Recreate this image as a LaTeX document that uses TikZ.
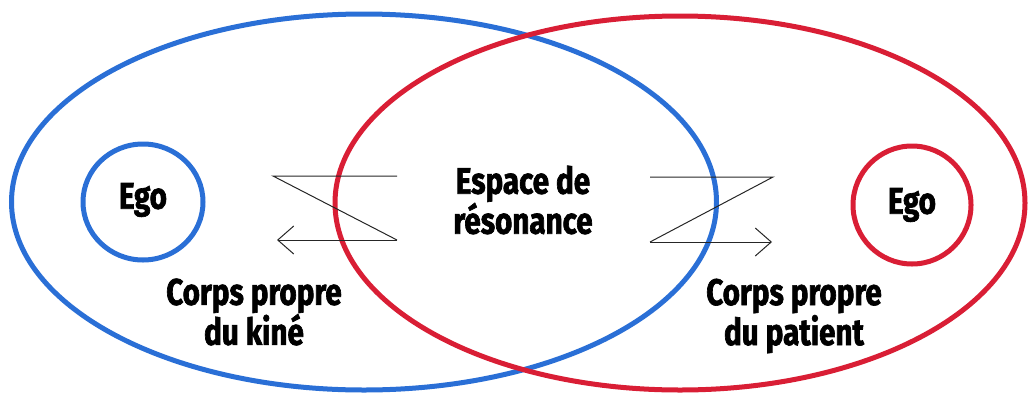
\documentclass[tikz,border=0pt]{standalone}
\usepackage{fontspec}
\setmainfont{Fira Sans}[FakeStretch=0.8,BoldFont={Fira Sans Bold},BoldFeatures={FakeStretch=0.8,FakeBold=1.8}]
\usetikzlibrary{shapes.geometric,arrows.meta}
\definecolor{egoblue}{HTML}{2A6FD6}
\definecolor{egored}{HTML}{D91E35}
\begin{document}
\begin{tikzpicture}[x=1pt,y=-1pt,
  ring/.style={ellipse,draw,line width=5pt,inner sep=0pt},
  lbl/.style={align=center,font=\bfseries\fontsize{37}{40}\selectfont,inner sep=0pt},
  zline/.style={line width=1pt,draw=black!85},
  zarrow/.style={zline,-{Straight Barb[length=16pt,width=28pt,line width=1pt]}}]
\useasboundingbox (0,0) rectangle (1030,394);
\node[ring,draw=egoblue,minimum width=705pt,minimum height=376pt] (kine) at (364,202) {};
\node[ring,draw=egored,minimum width=690pt,minimum height=374pt] (patient) at (680,203) {};
\node[ring,draw=egoblue,minimum width=120pt,minimum height=116pt] (egoL) at (143,202) {};
\node[ring,draw=egored,minimum width=118pt,minimum height=118pt] (egoR) at (912,205) {};
\node[lbl] (tegoL) at (143,200) {Ego};
\node[lbl] (tegoR) at (912,205) {Ego};
\node[lbl] (esp) at (523,200) {Espace de\\résonance};
\node[lbl] (ck) at (254,312) {Corps propre\\du kiné};
\node[lbl] (cp) at (794,316) {Corps propre\\du patient};
% left Z
\coordinate (l1) at (397,176);
\coordinate (l2) at (273,176);
\coordinate (l3) at (397,240);
\coordinate (l4) at (277,240);
\draw[zline] (l1) -- (l2) -- (l3);
\draw[zarrow] (l3) -- (l4);
% right Z
\coordinate (r1) at (650,177);
\coordinate (r2) at (773,177);
\coordinate (r3) at (650,242);
\coordinate (r4) at (772,242);
\draw[zline] (r1) -- (r2) -- (r3);
\draw[zarrow] (r3) -- (r4);
\end{tikzpicture}
\end{document}
